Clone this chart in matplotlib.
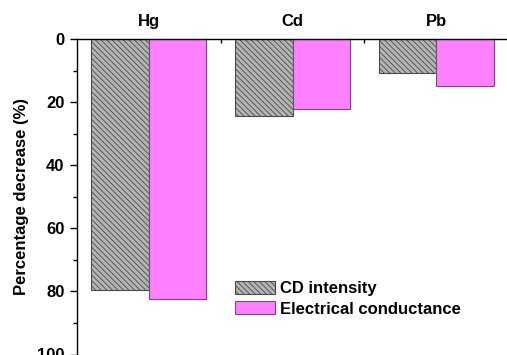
import numpy as np
import matplotlib
matplotlib.use('Agg')
import matplotlib.pyplot as plt
from matplotlib.ticker import MultipleLocator

plt.rcParams['font.family'] = 'Liberation Sans'
plt.rcParams['font.weight'] = 'bold'
plt.rcParams['hatch.color'] = '#3a3a3a'
plt.rcParams['hatch.linewidth'] = 0.6

metals = ['Hg', 'Cd', 'Pb']
cd_intensity = [79.5, 24.4, 10.9]
conductance = [82.3, 22.3, 14.8]

x = np.arange(1, len(metals) + 1)
w = 0.4

fig = plt.figure(figsize=(5.07, 3.55), dpi=100)
ax = fig.add_axes([77/507, 1 - 354.5/355, 431/507, 315.5/355])

ax.bar(x - w/2, cd_intensity, w, color='#b4b4b4', edgecolor='#4a4a4a',
       linewidth=0.8, hatch='\\' * 6, label='CD intensity')
ax.bar(x + w/2, conductance, w, color='#ff80ff', edgecolor='#7a4a7a',
       linewidth=0.8, label='Electrical conductance')

ax.set_xlim(0.5, 3.5)
ax.set_ylim(100, 0)
ax.xaxis.tick_top()
ax.set_xticks(x)
ax.set_xticklabels(metals, fontsize=12, fontweight='bold')
ax.set_xticks([1.5, 2.5], minor=True)
ax.tick_params(axis='x', which='major', length=0, pad=7)
ax.tick_params(axis='x', which='minor', direction='in', length=3, width=1)

ax.yaxis.set_major_locator(MultipleLocator(20))
ax.yaxis.set_minor_locator(MultipleLocator(10))
ax.tick_params(axis='y', which='major', direction='out', length=5, width=1,
               labelsize=12, pad=4)
ax.tick_params(axis='y', which='minor', direction='out', length=3, width=1)
for lab in ax.get_yticklabels():
    lab.set_fontweight('bold')

ax.spines['right'].set_visible(False)
ax.spines['bottom'].set_visible(False)
for s in ['left', 'top']:
    ax.spines[s].set_linewidth(1.0)

ax.set_ylabel('Percentage decrease (%)', fontsize=12, fontweight='bold',
              labelpad=6)

ax.legend(loc='upper left', bbox_to_anchor=(0.351, 0.255), frameon=False,
          fontsize=12, handlelength=2.4, handleheight=0.85, handletextpad=0.3,
          labelspacing=0.3, borderaxespad=0)

plt.savefig('out.png', dpi=100)
